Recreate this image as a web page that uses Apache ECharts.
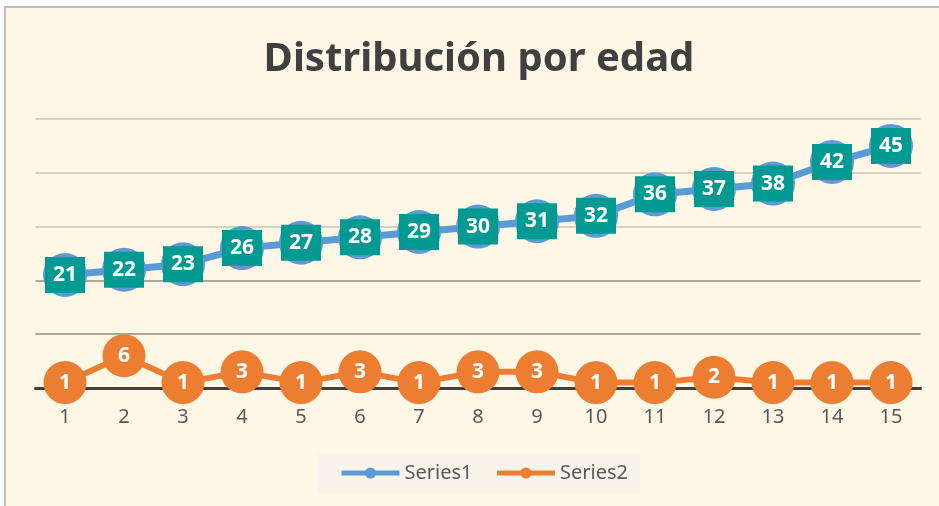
<!DOCTYPE html>
<html>
<head>
<meta charset="utf-8">
<script src="https://cdn.jsdelivr.net/npm/echarts@6/dist/echarts.min.js"></script>
<style>
  html, body { margin: 0; padding: 0; background: #fff; }
  #chart { width: 939px; height: 506px; }
</style>
</head>
<body>
<div id="chart"></div>
<script>
// datos
var categorias = ['1','2','3','4','5','6','7','8','9','10','11','12','13','14','15'];
var serie1 = [21, 22, 23, 26, 27, 28, 29, 30, 31, 32, 36, 37, 38, 42, 45];
var serie2 = [1, 6, 1, 3, 1, 3, 1, 3, 3, 1, 1, 2, 1, 1, 1];
var nombres = ['Series1', 'Series2'];

var chart = echarts.init(document.getElementById('chart'));
var fuente = '"Noto Sans", sans-serif';

chart.setOption({
  backgroundColor: '#FEF7E6',
  animation: false,
  title: {
    text: 'Distribución por edad',
    left: 474,
    textAlign: 'center',
    top: 35,
    textStyle: { fontFamily: fuente, fontSize: 40, fontWeight: 'bold', color: '#404040' }
  },
  legend: {
    data: nombres,
    bottom: 13,
    left: 317,
    itemWidth: 58,
    itemHeight: 14,
    itemGap: 22,
    padding: [10, 12, 10, 22],
    backgroundColor: '#F8F4E9',
    lineStyle: { width: 5 },
    textStyle: { fontFamily: fuente, fontSize: 20, color: '#595959' }
  },
  grid: { left: 35.5, right: 18.5, top: 119, bottom: 118 },
  xAxis: {
    type: 'category',
    data: categorias,
    boundaryGap: true,
    axisLine: { lineStyle: { color: '#404040', width: 3 } },
    axisTick: { show: false },
    axisLabel: { fontFamily: fuente, fontSize: 20, color: '#595959', margin: 19 }
  },
  yAxis: {
    type: 'value',
    min: 0,
    max: 50,
    interval: 10,
    axisLabel: { show: false },
    axisLine: { show: false },
    axisTick: { show: false },
    splitLine: {
      lineStyle: { width: 2, color: ['#404040', '#ADA798', '#ADA798', '#D8D1C2', '#D8D1C2', '#D8D1C2'] }
    }
  },
  series: [
    {
      name: nombres[0],
      type: 'line',
      data: serie1,
      color: '#5B9BD5',
      symbol: 'circle',
      symbolSize: 44,
      lineStyle: { width: 7, color: '#5B9BD5' },
      itemStyle: { color: '#5B9BD5' },
      label: {
        show: true,
        position: 'inside',
        fontFamily: fuente,
        fontSize: 21,
        fontWeight: 'bold',
        color: '#fff',
        backgroundColor: '#009A93',
        padding: [7, 8, 7, 8],
        lineHeight: 22
      }
    },
    {
      name: nombres[1],
      type: 'line',
      data: serie2,
      color: '#ED7D31',
      symbol: 'circle',
      symbolSize: 43,
      lineStyle: { width: 6, color: '#ED7D31' },
      itemStyle: { color: '#ED7D31' },
      label: {
        show: true,
        position: 'inside',
        fontFamily: fuente,
        fontSize: 21,
        fontWeight: 'bold',
        color: '#fff'
      }
    }
  ],
  graphic: [
    { type: 'rect', shape: { x: 0, y: 0, width: 939, height: 6 }, style: { fill: '#fff' }, silent: true },
    { type: 'rect', shape: { x: 0, y: 0, width: 4, height: 506 }, style: { fill: '#fff' }, silent: true },
    { type: 'line', shape: { x1: 4, y1: 7, x2: 939, y2: 7 }, style: { stroke: '#BFBFBF', lineWidth: 2 }, silent: true },
    { type: 'line', shape: { x1: 5, y1: 6, x2: 5, y2: 506 }, style: { stroke: '#BFBFBF', lineWidth: 2 }, silent: true }
  ]
});
</script>
</body>
</html>
